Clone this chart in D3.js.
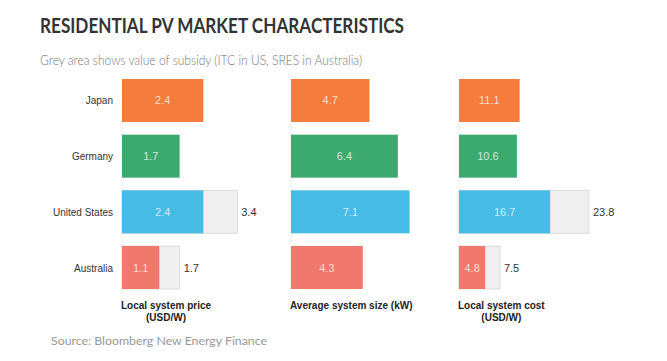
<!DOCTYPE html>
<html>
<head>
<meta charset="utf-8">
<script src="https://cdn.jsdelivr.net/npm/d3@7"></script>
<style>
  body { margin: 0; background: #fff; }
</style>
</head>
<body>
<div id="chart"></div>
<script>
// Data
const countries = ["Japan", "Germany", "United States", "Australia"];
const colors = ["#f47c3c", "#3caa6e", "#46bbe6", "#f0786c"];
const priceNet = [2.4, 1.7, 2.4, 1.1];
const priceGross = [null, null, 3.4, 1.7];
const sizeKw = [4.7, 6.4, 7.1, 4.3];
const costNet = [11.1, 10.6, 16.7, 4.8];
const costGross = [null, null, 23.8, 7.5];
const panelTitles = [["Local system price", "(USD/W)"], ["Average system size (kW)"], ["Local system cost", "(USD/W)"]];

const w = 667, h = 361;

const svg = d3.select("#chart").append("svg")
  .attr("width", w)
  .attr("height", h)
  .style("font-family", "'Liberation Sans', Arial, sans-serif");

// Title + subtitle
svg.append("text")
  .attr("x", 40).attr("y", 33)
  .attr("font-family", "Lato, sans-serif")
  .attr("font-weight", "bold")
  .attr("font-size", 20)
  .attr("fill", "#333")
  .attr("textLength", 364)
  .attr("lengthAdjust", "spacingAndGlyphs")
  .text("RESIDENTIAL PV MARKET CHARACTERISTICS");

svg.append("text")
  .attr("x", 40).attr("y", 65)
  .attr("font-family", "Lato, sans-serif")
  .attr("font-weight", 300)
  .attr("font-size", 13.5)
  .attr("fill", "#777")
  .attr("textLength", 322)
  .attr("lengthAdjust", "spacingAndGlyphs")
  .text("Grey area shows value of subsidy (ITC in US, SRES in Australia)");

// Shared band scale
const yScale = d3.scaleBand()
  .domain(countries)
  .range([79, 289])
  .paddingInner(0.228)
  .paddingOuter(0);

// Country labels
svg.selectAll(".country")
  .data(countries)
  .enter()
  .append("text")
  .attr("x", 113)
  .attr("y", d => yScale(d) + yScale.bandwidth() / 2 + 4)
  .attr("text-anchor", "end")
  .attr("font-size", 10)
  .attr("fill", "#333")
  .text(d => d);

const panels = [
  {x0: 122, pxPerUnit: 33.9, net: priceNet, gross: priceGross},
  {x0: 291, pxPerUnit: 16.7, net: sizeKw, gross: [null, null, null, null]},
  {x0: 459, pxPerUnit: 5.46, net: costNet, gross: costGross}
];

panels.forEach(function (p, pi) {
  const maxV = d3.max(p.net.concat(p.gross.filter(v => v != null)));
  const xScale = d3.scaleLinear()
    .domain([0, maxV])
    .range([p.x0, p.x0 + maxV * p.pxPerUnit]);

  const g = svg.append("g");
  const rows = countries.map((c, i) => ({c: c, net: p.net[i], gross: p.gross[i], color: colors[i]}));

  // faint baseline
  g.append("line")
    .attr("x1", xScale(0)).attr("x2", xScale(0))
    .attr("y1", yScale.range()[0]).attr("y2", yScale.range()[1] + 3)
    .attr("stroke", "#eee");

  // grey subsidy bars
  g.selectAll(".gross")
    .data(rows.filter(d => d.gross != null))
    .enter()
    .append("rect")
    .attr("x", xScale(0))
    .attr("y", d => yScale(d.c))
    .attr("width", d => xScale(d.gross) - xScale(0))
    .attr("height", yScale.bandwidth())
    .attr("fill", "#efefef")
    .attr("stroke", "#dcdcdc")
    .attr("stroke-width", 1);

  // colored bars
  g.selectAll(".net")
    .data(rows)
    .enter()
    .append("rect")
    .attr("x", xScale(0))
    .attr("y", d => yScale(d.c))
    .attr("width", d => xScale(d.net) - xScale(0))
    .attr("height", yScale.bandwidth())
    .attr("fill", d => d.color);

  // inside labels
  g.selectAll(".netText")
    .data(rows)
    .enter()
    .append("text")
    .attr("x", d => (xScale(0) + xScale(d.net)) / 2)
    .attr("y", d => yScale(d.c) + yScale.bandwidth() / 2 + 4)
    .attr("text-anchor", "middle")
    .attr("font-size", 11)
    .attr("fill", "#fff")
    .attr("fill-opacity", 0.75)
    .text(d => d.net.toFixed(1));

  // gross labels
  g.selectAll(".grossText")
    .data(rows.filter(d => d.gross != null))
    .enter()
    .append("text")
    .attr("x", d => xScale(d.gross) + 4)
    .attr("y", d => yScale(d.c) + yScale.bandwidth() / 2 + 4)
    .attr("font-size", 11)
    .attr("fill", "#333")
    .text(d => d.gross.toFixed(1));

  // panel title
  const lines = panelTitles[pi];
  const t1 = g.append("text")
    .attr("x", p.x0 - 1)
    .attr("y", 309)
    .attr("font-size", 10)
    .attr("font-weight", "bold")
    .attr("fill", "#222")
    .text(lines[0]);
  if (lines[1]) {
    const wid = t1.node().getComputedTextLength();
    g.append("text")
      .attr("x", p.x0 - 1 + wid / 2)
      .attr("y", 321)
      .attr("text-anchor", "middle")
      .attr("font-size", 10)
      .attr("font-weight", "bold")
      .attr("fill", "#222")
      .text(lines[1]);
  }
});

// Source
svg.append("text")
  .attr("x", 51).attr("y", 345)
  .attr("font-family", "Lato, sans-serif")
  .attr("font-size", 12)
  .attr("fill", "#999")
  .attr("textLength", 216)
  .attr("lengthAdjust", "spacingAndGlyphs")
  .text("Source:  Bloomberg New Energy Finance");
</script>
</body>
</html>
